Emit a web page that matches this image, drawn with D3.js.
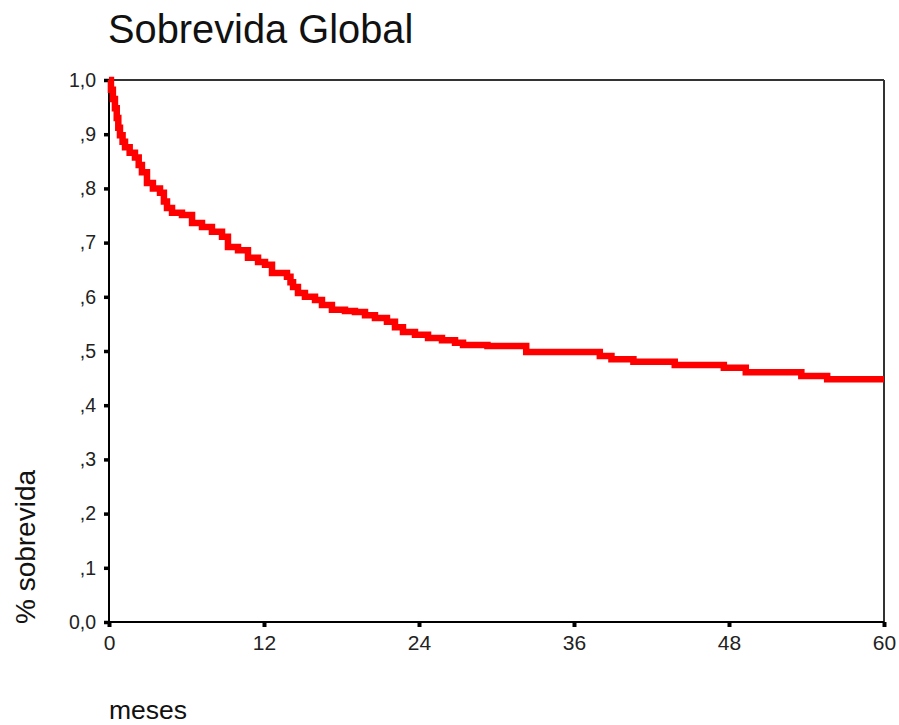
<!DOCTYPE html>
<html>
<head>
<meta charset="utf-8">
<script src="https://cdn.jsdelivr.net/npm/d3@7"></script>
<style>
  html, body { margin: 0; padding: 0; background: #fff; }
  svg { display: block; font-family: Arial, "Liberation Sans", sans-serif; }
</style>
</head>
<body>
<svg id="chart" width="899" height="725"></svg>
<script>
// Kaplan-Meier step estimate: time in months where the step begins, and survival from that time on
const months = [0, 0.15, 0.3, 0.46, 0.6, 0.72, 0.85, 1.05, 1.24, 1.6, 2.01, 2.3, 2.55, 2.94, 3.4, 3.95,
  4.25, 4.49, 4.88, 5.65, 6.43, 7.2, 7.97, 8.75,
  9.21, 9.99, 10.76, 11.54, 12.08, 12.62, 13.78, 14.05, 14.25, 14.63, 15.17, 15.95, 16.49, 17.26, 18.27,
  19.04, 19.82, 20.59, 21.52, 22.14, 22.76, 23.69, 24.7, 25.78, 26.79, 27.41, 29.3, 32.3, 38.0,
  38.9, 40.6, 43.8, 47.6, 49.3, 53.6, 55.6, 60];
const survival = [1.0, 0.982, 0.965, 0.948, 0.93, 0.912, 0.898, 0.886, 0.876, 0.866, 0.857, 0.843,
  0.83, 0.81, 0.8, 0.792, 0.776, 0.764, 0.755, 0.751, 0.736,
  0.729, 0.72, 0.711, 0.692, 0.686, 0.672, 0.664, 0.659, 0.644, 0.637, 0.627, 0.618, 0.607, 0.6, 0.594,
  0.585, 0.576, 0.574, 0.572, 0.566, 0.561, 0.554, 0.544, 0.535, 0.53, 0.524, 0.52, 0.515, 0.511,
  0.509, 0.498, 0.491, 0.485, 0.48, 0.474, 0.469, 0.461, 0.454, 0.448, 0.448];

const xTicks = [0, 12, 24, 36, 48, 60];
const yTicks = [0, 0.1, 0.2, 0.3, 0.4, 0.5, 0.6, 0.7, 0.8, 0.9, 1.0];
const yTickLabels = ["0,0", ",1", ",2", ",3", ",4", ",5", ",6", ",7", ",8", ",9", "1,0"];

const titleText = "Sobrevida Global";
const yTitle = "% sobrevida";
const xTitle = "meses";

const svg = d3.select("#chart");
const plotL = 109, plotR = 884, plotT = 80, plotB = 622;

const x = d3.scaleLinear().domain([0, 60]).range([plotL, plotR]);
const y = d3.scaleLinear().domain([0, 1]).range([plotB, plotT]);

// Title
svg.append("text")
  .attr("x", 108).attr("y", 43)
  .attr("font-size", 39.8)
  .attr("fill", "#111")
  .text(titleText);

// Frame: top and right borders
svg.append("line").attr("x1", plotL).attr("x2", plotR).attr("y1", plotT).attr("y2", plotT)
  .attr("stroke", "#333").attr("stroke-width", 2);
svg.append("line").attr("x1", plotR).attr("x2", plotR).attr("y1", plotT).attr("y2", plotB)
  .attr("stroke", "#333").attr("stroke-width", 2);

// Y axis
const yAxis = d3.axisLeft(y)
  .tickValues(yTicks)
  .tickFormat((d, i) => yTickLabels[i])
  .tickSize(5)
  .tickPadding(8);
const gy = svg.append("g").attr("transform", `translate(${plotL},0)`).call(yAxis);
gy.select(".domain").attr("stroke", "#000").attr("stroke-width", 2)
  .attr("d", `M0,${plotT}V${plotB + 1}`);
gy.selectAll(".tick line").attr("stroke", "#000").attr("stroke-width", 3.5);
gy.selectAll(".tick text").attr("font-size", 19.5).attr("fill", "#222")
  .attr("font-family", "Arial, 'Liberation Sans', sans-serif");

// X axis
const xAxis = d3.axisBottom(x)
  .tickValues(xTicks)
  .tickSize(5)
  .tickPadding(8);
const gx = svg.append("g").attr("transform", `translate(0,${plotB})`).call(xAxis);
gx.select(".domain").attr("stroke", "#000").attr("stroke-width", 2)
  .attr("d", `M${plotL - 1},0H${plotR}`);
gx.selectAll(".tick line").attr("stroke", "#000").attr("stroke-width", 4);
gx.selectAll(".tick text").attr("font-size", 21).attr("fill", "#222")
  .attr("font-family", "Arial, 'Liberation Sans', sans-serif");

// Survival curve
const pts = months.map((m, i) => [m, survival[i]]);
const line = d3.line()
  .x(d => x(d[0]))
  .y(d => y(d[1]))
  .curve(d3.curveStepAfter);
svg.append("path")
  .datum(pts)
  .attr("d", line)
  .attr("fill", "none")
  .attr("stroke", "#ff0000")
  .attr("stroke-width", 6.5)
  .attr("stroke-linejoin", "miter");

// Axis titles
svg.append("text")
  .attr("transform", "translate(35,547) rotate(-90)")
  .attr("text-anchor", "middle")
  .attr("font-size", 28)
  .attr("fill", "#111")
  .text(yTitle);

svg.append("text")
  .attr("x", 109).attr("y", 719)
  .attr("font-size", 26.5)
  .attr("fill", "#111")
  .text(xTitle);
</script>
</body>
</html>
